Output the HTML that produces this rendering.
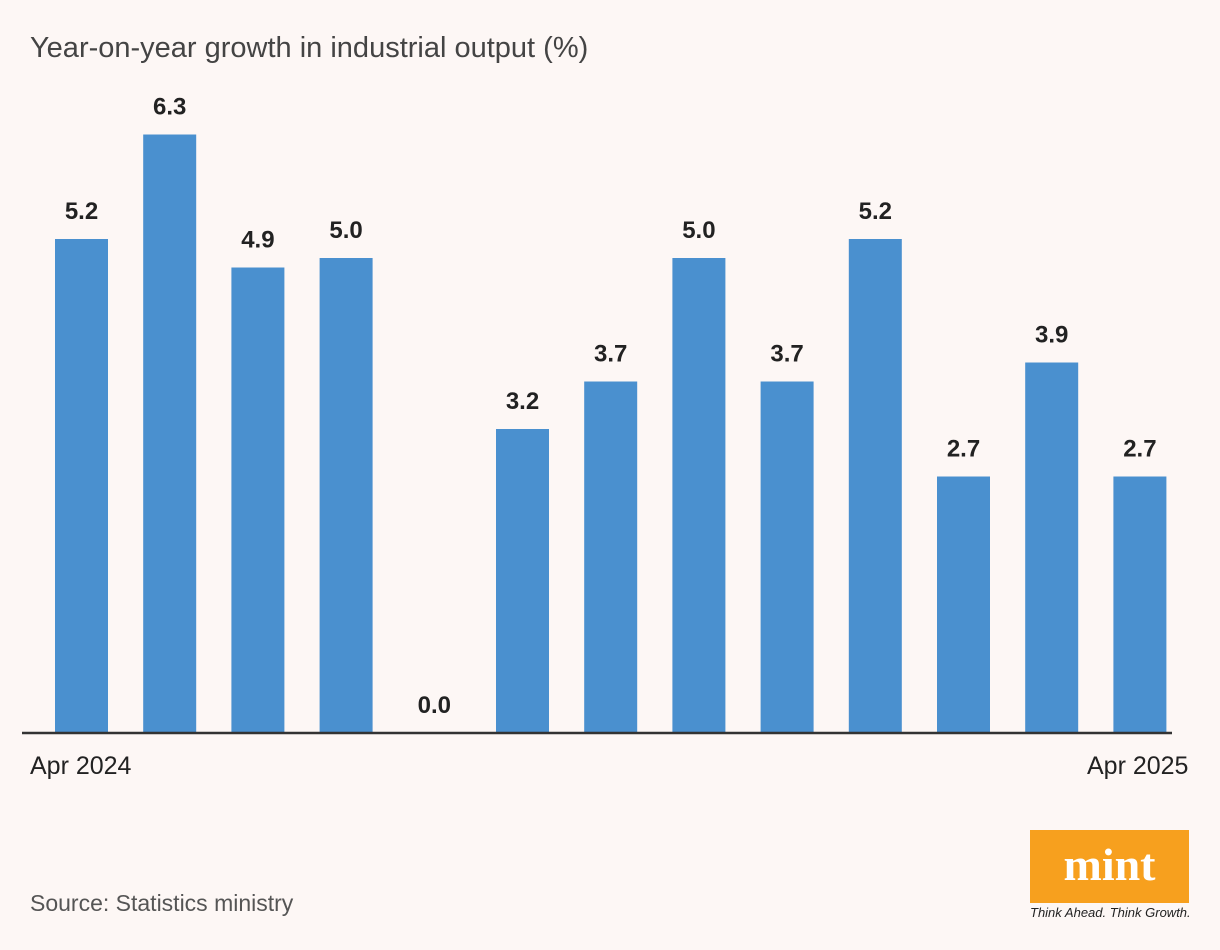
<!DOCTYPE html>
<html><head><meta charset="utf-8"><style>
body{margin:0;background:#fdf7f5;font-family:"Liberation Sans",sans-serif;}
#wrap{position:relative;width:1220px;height:950px;overflow:hidden;background:#fdf7f5;}
.t{position:absolute;color:#3a3a3a;}
</style></head><body>
<div id="wrap">
<div class="t" style="left:30px;top:32px;font-size:29px;color:#444;">Year-on-year growth in industrial output (%)</div>
<svg id="chart" width="1220" height="950" style="position:absolute;left:0;top:0"></svg>
<div class="t" style="left:30px;top:752px;font-size:25px;color:#222;">Apr 2024</div>
<div class="t" style="left:1087px;top:752px;font-size:25px;color:#222;">Apr 2025</div>
<div class="t" style="left:30px;top:890px;font-size:23px;color:#555;">Source: Statistics ministry</div>
<div style="position:absolute;left:1030px;top:830px;width:159px;height:73px;background:#f7a01e;color:#fff;font-family:'Liberation Serif',serif;font-weight:bold;font-size:46px;text-align:center;line-height:70px;">mint</div>
<div style="position:absolute;left:1030px;top:905px;font-size:13px;font-style:italic;color:#222;">Think Ahead. Think Growth.</div>
</div>
<script>
const categories=["Apr 2024","May 2024","Jun 2024","Jul 2024","Aug 2024","Sep 2024","Oct 2024","Nov 2024","Dec 2024","Jan 2025","Feb 2025","Mar 2025","Apr 2025"];
const values=[5.2,6.3,4.9,5.0,0.0,3.2,3.7,5.0,3.7,5.2,2.7,3.9,2.7];
const labels=["5.2","6.3","4.9","5.0","0.0","3.2","3.7","5.0","3.7","5.2","2.7","3.9","2.7"];
const svg=document.getElementById('chart');
const NS='http://www.w3.org/2000/svg';
const baseY=733,pxPerUnit=95,x0=55,step=88.2,bw=53;
const xPos=i=>x0+i*step;
const yPos=v=>baseY-v*pxPerUnit;
values.forEach((v,i)=>{
  const r=document.createElementNS(NS,'rect');
  r.setAttribute('x',xPos(i));r.setAttribute('y',yPos(v));
  r.setAttribute('width',bw);r.setAttribute('height',baseY-yPos(v));
  r.setAttribute('fill','#4a90cf');
  
  
  svg.appendChild(r);
  const t=document.createElementNS(NS,'text');
  t.setAttribute('x',xPos(i)+bw/2);t.setAttribute('y',yPos(v)-20);
  t.setAttribute('text-anchor','middle');t.setAttribute('font-size','24');
  t.setAttribute('font-weight','bold');t.setAttribute('fill','#222');
  t.setAttribute('font-family','Liberation Sans, sans-serif');
  t.textContent=labels[i];
  
  
  svg.appendChild(t);
});
const ax=document.createElementNS(NS,'line');
ax.setAttribute('x1',22);ax.setAttribute('x2',1172);ax.setAttribute('y1',baseY);ax.setAttribute('y2',baseY);
ax.setAttribute('stroke','#333');ax.setAttribute('stroke-width','2.5');


svg.appendChild(ax);
</script>
</body></html>
